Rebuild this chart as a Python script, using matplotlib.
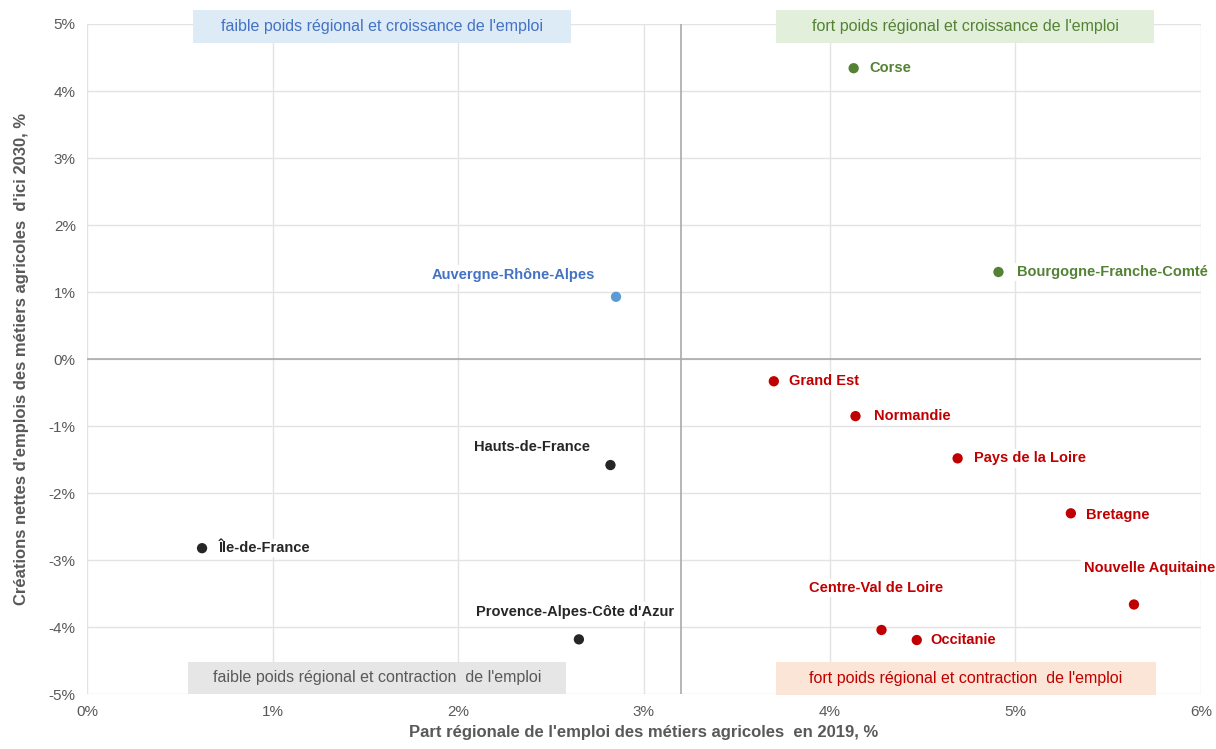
import matplotlib.pyplot as plt
from matplotlib.patches import Rectangle
from matplotlib.ticker import FuncFormatter

plt.rcParams['font.family'] = ['Liberation Sans', 'DejaVu Sans']

regions = ['Corse', 'Bourgogne-Franche-Comté', 'Auvergne-Rhône-Alpes', 'Grand Est',
           'Normandie', 'Pays de la Loire', 'Bretagne', 'Nouvelle Aquitaine',
           'Centre-Val de Loire', 'Occitanie', 'Hauts-de-France', 'Île-de-France',
           "Provence-Alpes-Côte d'Azur"]
part_2019 = [4.13, 4.91, 2.85, 3.70, 4.14, 4.69, 5.30, 5.64, 4.28, 4.47, 2.82, 0.62, 2.65]
creations_2030 = [4.34, 1.30, 0.93, -0.33, -0.85, -1.48, -2.30, -3.66, -4.04, -4.19, -1.58, -2.82, -4.18]
groups = ['g', 'g', 'b', 'r', 'r', 'r', 'r', 'r', 'r', 'r', 'k', 'k', 'k']

colors = {'g': '#548235', 'b': '#5B9BD5', 'r': '#C00000', 'k': '#262626'}
label_colors = {'g': '#548235', 'b': '#4472C4', 'r': '#C00000', 'k': '#262626'}

# label offsets in points (dx, dy, ha)
offsets = {
    'Corse': (11, 0, 'left'),
    'Bourgogne-Franche-Comté': (13, 0, 'left'),
    'Auvergne-Rhône-Alpes': (-15, 16, 'right'),
    'Grand Est': (11, 0, 'left'),
    'Normandie': (13, 0, 'left'),
    'Pays de la Loire': (12, 0, 'left'),
    'Bretagne': (11, -1, 'left'),
    'Nouvelle Aquitaine': (11, 26, 'center'),
    'Centre-Val de Loire': (-4, 30, 'center'),
    'Occitanie': (10, 0, 'left'),
    'Hauts-de-France': (-15, 13, 'right'),
    'Île-de-France': (12, 0, 'left'),
    "Provence-Alpes-Côte d'Azur": (-3, 20, 'center'),
}

# quadrant boxes: x0, x1, y0, y1, text, fill, text colour
quadrants = [
    (0.57, 2.61, 4.72, 5.21, "faible poids régional et croissance de l'emploi", '#DDEBF7', '#4472C4'),
    (3.71, 5.75, 4.72, 5.21, "fort poids régional et croissance de l'emploi", '#E2EFDA', '#548235'),
    (0.545, 2.58, -4.99, -4.52, "faible poids régional et contraction  de l'emploi", '#E7E6E6', '#595959'),
    (3.71, 5.76, -5.01, -4.52, "fort poids régional et contraction  de l'emploi", '#FBE5D6', '#C00000'),
]

fig = plt.figure(figsize=(12.16, 7.49), dpi=100)
ax = fig.add_axes([0.0715, 0.073, 0.916, 0.895])

ax.set_xlim(0, 6)
ax.set_ylim(-5, 5)
ax.set_xticks(range(0, 7))
ax.set_yticks(range(-5, 6))
ax.grid(True, color='#E3E3E3', linewidth=1)
ax.set_axisbelow(True)
for s in ax.spines.values():
    s.set_visible(False)
ax.tick_params(length=0, colors='#595959', labelsize=11, pad=8)
ax.xaxis.set_major_formatter(FuncFormatter(lambda v, p: f'{v:.0f}%'))
ax.yaxis.set_major_formatter(FuncFormatter(lambda v, p: f'{v:.0f}%'))

ax.axhline(0, color='#AAAAAA', linewidth=1.2, zorder=1)
ax.axvline(3.2, color='#AAAAAA', linewidth=1.2, zorder=1)

for name, x, y, g in zip(regions, part_2019, creations_2030, groups):
    ax.scatter(x, y, s=55, color=colors[g], zorder=3, edgecolors='none')
    dx, dy, ha = offsets[name]
    ax.annotate(name, (x, y), xytext=(dx, dy), textcoords='offset points',
                ha=ha, va='center', fontsize=10.5, fontweight='bold',
                color=label_colors[g], zorder=4,
                bbox=dict(boxstyle='square,pad=0.15', fc='white', ec='none'))

for x0, x1, y0, y1, txt, fc, tc in quadrants:
    ax.add_patch(Rectangle((x0, y0), x1 - x0, y1 - y0, facecolor=fc, edgecolor='none',
                           zorder=5, clip_on=False))
    ax.text((x0 + x1) / 2, (y0 + y1) / 2, txt, ha='center', va='center', fontsize=11.5,
            color=tc, zorder=6)

ax.set_xlabel("Part régionale de l'emploi des métiers agricoles  en 2019, %",
              fontsize=12, fontweight='bold', color='#595959', labelpad=4)
ax.set_ylabel("Créations nettes d'emplois des métiers agricoles  d'ici 2030, %",
              fontsize=12, fontweight='bold', color='#595959', labelpad=14)

fig.savefig('out.png', dpi=100)
